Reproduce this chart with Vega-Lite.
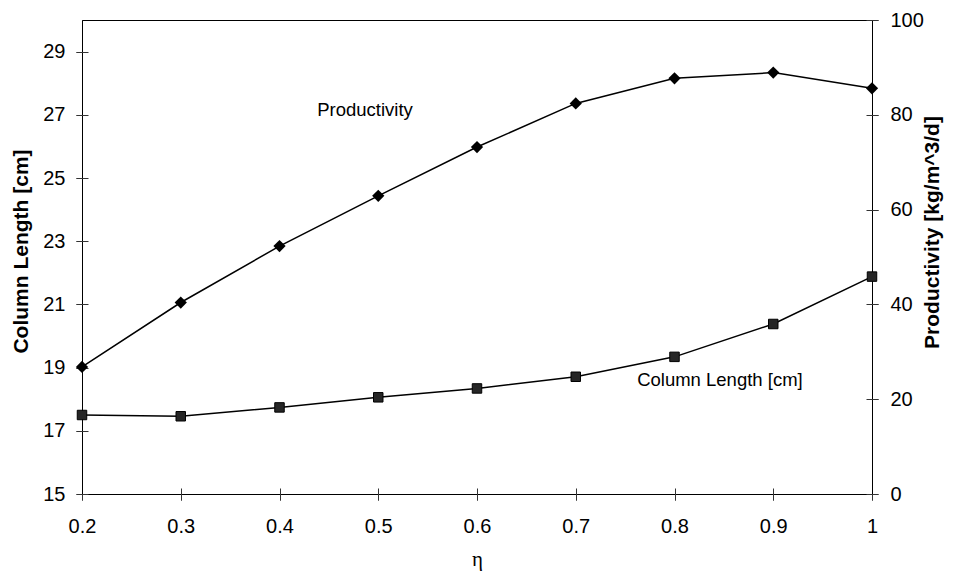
{
  "$schema": "https://vega.github.io/schema/vega-lite/v6.json",
  "width": 790,
  "height": 474,
  "autosize": {"type": "none"},
  "padding": {"left": 82, "top": 20, "right": 83, "bottom": 79},
  "background": "white",
  "config": {
    "view": {"stroke": "#000", "strokeWidth": 1},
    "font": "Liberation Sans",
    "axis": {
      "labelFont": "Liberation Sans",
      "labelFontSize": 20,
      "labelColor": "#000",
      "labelFlush": false,
      "labelOverlap": false,
      "domainColor": "#000",
      "tickColor": "#333",
      "tickSize": 6,
      "grid": false,
      "titleFont": "Liberation Sans",
      "titleColor": "#000"
    }
  },
  "datasets": {
    "main": [
      {"eta": 0.2, "col": 17.50, "prod": 26.8},
      {"eta": 0.3, "col": 17.46, "prod": 40.4},
      {"eta": 0.4, "col": 17.74, "prod": 52.3},
      {"eta": 0.5, "col": 18.06, "prod": 62.9},
      {"eta": 0.6, "col": 18.34, "prod": 73.2},
      {"eta": 0.7, "col": 18.71, "prod": 82.4},
      {"eta": 0.8, "col": 19.34, "prod": 87.7},
      {"eta": 0.9, "col": 20.38, "prod": 88.9},
      {"eta": 1.0, "col": 21.88, "prod": 85.6}
    ],
    "noteProd": [{"label": "Productivity", "x": 0.4866, "y": 79.7}],
    "noteCol": [{"label": "Column Length [cm]", "x": 0.846, "y": 18.42}]
  },
  "resolve": {
    "scale": {"y": "independent"},
    "axis": {"x": "independent", "y": "independent"}
  },
  "layer": [
    {
      "data": {"name": "main"},
      "mark": {"type": "line", "color": "#000", "strokeWidth": 1.5},
      "encoding": {
        "x": {
          "field": "eta", "type": "quantitative",
          "scale": {"domain": [0.2, 1.0], "nice": false, "zero": false},
          "axis": {
            "orient": "bottom",
            "values": [0.2, 0.3, 0.4, 0.5, 0.6, 0.7, 0.8, 0.9, 1.0],
            "format": ".1~f",
            "labelPadding": 16,
            "title": "η",
            "titleFont": "Liberation Serif",
            "titleFontSize": 21,
            "titleFontWeight": "normal",
            "titleBaseline": "alphabetic",
            "titleX": 395,
            "titleY": 71
          }
        },
        "y": {
          "field": "col", "type": "quantitative",
          "scale": {"domain": [15, 30], "nice": false, "zero": false},
          "axis": {
            "orient": "left",
            "values": [15, 17, 19, 21, 23, 25, 27, 29],
            "labelPadding": 11,
            "title": "Column Length [cm]",
            "titleFontSize": 21,
            "titleFontWeight": "bold",
            "titleAngle": 270,
            "titleBaseline": "alphabetic",
            "titleAlign": "center",
            "titleX": -55,
            "titleY": 231
          }
        }
      }
    },
    {
      "data": {"name": "main"},
      "mark": {"type": "point", "shape": "square", "filled": true, "size": 90, "fill": "#262626", "stroke": "#000", "strokeWidth": 1, "opacity": 1},
      "encoding": {
        "x": {"field": "eta", "type": "quantitative", "scale": {"domain": [0.2, 1.0], "nice": false, "zero": false}, "axis": null},
        "y": {"field": "col", "type": "quantitative", "scale": {"domain": [15, 30], "nice": false, "zero": false}, "axis": null}
      }
    },
    {
      "data": {"name": "main"},
      "mark": {"type": "line", "color": "#000", "strokeWidth": 1.5},
      "encoding": {
        "x": {"field": "eta", "type": "quantitative", "scale": {"domain": [0.2, 1.0], "nice": false, "zero": false}, "axis": null},
        "y": {
          "field": "prod", "type": "quantitative",
          "scale": {"domain": [0, 100], "nice": false, "zero": false},
          "axis": {
            "orient": "right",
            "values": [0, 20, 40, 60, 80, 100],
            "labelPadding": 12,
            "title": "Productivity [kg/m^3/d]",
            "titleFontSize": 21,
            "titleFontWeight": "bold",
            "titleAngle": 270,
            "titleBaseline": "alphabetic",
            "titleAlign": "center",
            "titleX": 66,
            "titleY": 212
          }
        }
      }
    },
    {
      "data": {"name": "main"},
      "mark": {"type": "point", "shape": "diamond", "filled": true, "size": 150, "fill": "#000", "opacity": 1},
      "encoding": {
        "x": {"field": "eta", "type": "quantitative", "scale": {"domain": [0.2, 1.0], "nice": false, "zero": false}, "axis": null},
        "y": {"field": "prod", "type": "quantitative", "scale": {"domain": [0, 100], "nice": false, "zero": false}, "axis": null}
      }
    },
    {
      "data": {"name": "noteProd"},
      "mark": {"type": "text", "font": "Liberation Sans", "fontSize": 18.5, "color": "#000", "align": "center", "baseline": "alphabetic"},
      "encoding": {
        "text": {"field": "label"},
        "x": {"field": "x", "type": "quantitative", "scale": {"domain": [0.2, 1.0], "nice": false, "zero": false}, "axis": null},
        "y": {
          "field": "y", "type": "quantitative",
          "scale": {"domain": [0, 100], "nice": false, "zero": false},
          "axis": {"orient": "right", "values": [0, 20, 40, 60, 80, 100], "offset": -6, "tickSize": 12, "labels": false, "domain": false, "title": null}
        }
      }
    },
    {
      "data": {"name": "noteCol"},
      "mark": {"type": "text", "font": "Liberation Sans", "fontSize": 18.5, "color": "#000", "align": "center", "baseline": "alphabetic"},
      "encoding": {
        "text": {"field": "label"},
        "x": {
          "field": "x", "type": "quantitative",
          "scale": {"domain": [0.2, 1.0], "nice": false, "zero": false},
          "axis": {"orient": "bottom", "values": [0.2, 0.3, 0.4, 0.5, 0.6, 0.7, 0.8, 0.9, 1.0], "offset": -6, "tickSize": 12, "labels": false, "domain": false, "title": null}
        },
        "y": {
          "field": "y", "type": "quantitative",
          "scale": {"domain": [15, 30], "nice": false, "zero": false},
          "axis": {"orient": "left", "values": [15, 17, 19, 21, 23, 25, 27, 29], "offset": -6, "tickSize": 12, "labels": false, "domain": false, "title": null}
        }
      }
    }
  ]
}
